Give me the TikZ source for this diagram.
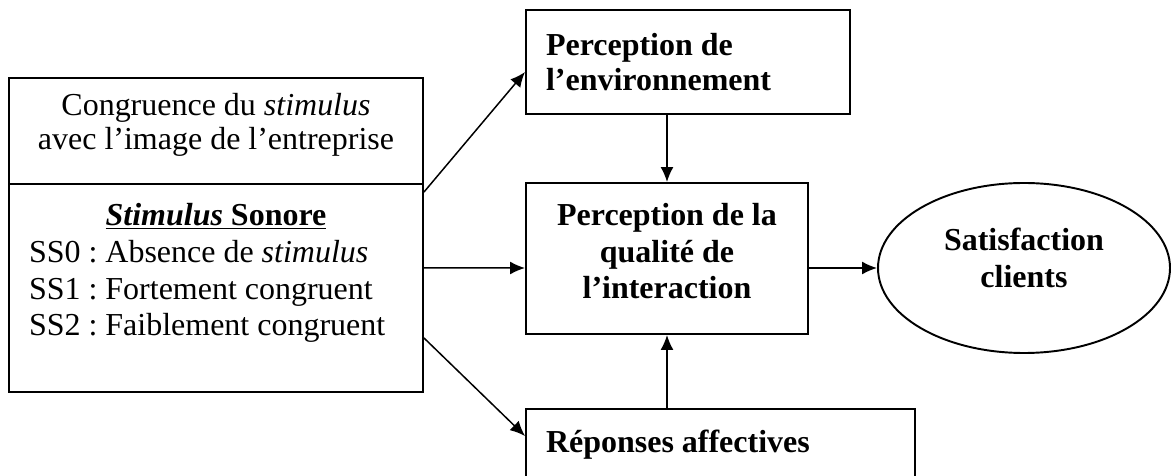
\documentclass[tikz,border=0pt]{standalone}
\usepackage{fontspec}
\setmainfont{Liberation Serif}
\usetikzlibrary{shapes,arrows.meta}
\usetikzlibrary{positioning}

\begin{document}
\begin{tikzpicture}[
    boite/.style={draw, line width=1.1pt, rectangle, inner sep=0pt, font=\fontsize{18.2}{21}\selectfont\frenchspacing},
    serre/.style={font=\fontsize{18.2}{19.5}\selectfont\frenchspacing},
    gras/.style={font=\fontsize{18.2}{21}\selectfont\bfseries},
    fleche/.style={-{Latex[length=0.3cm, width=0.26cm]}, line width=0.85pt}
    ]

    \useasboundingbox (0cm, 0cm) rectangle (23.42cm, 9.5cm);

    % Left boxes
    \node[boite, serre, minimum width=8.28cm, minimum height=2.12cm, align=center, text depth=0.37cm] (congr) at (4.32cm, 6.88cm) {Congruence du \textit{stimulus}\\avec l’image de l’entreprise};
    \node[boite, minimum width=8.28cm, minimum height=4.16cm, text width=7.48cm, align=flush left] (stim) at (4.32cm, 3.74cm) {\makebox[7.48cm][c]{\underline{\textbf{\textit{Stimulus} Sonore}}}\\SS0 : Absence de \textit{stimulus}\\SS1 : Fortement congruent\\SS2 : Faiblement congruent\\\mbox{}};

    % Middle boxes
    \node[boite, gras, minimum width=6.48cm, minimum height=2.08cm, text width=5.68cm, align=flush left, font=\fontsize{18.2}{19.5}\selectfont\bfseries] (env) at (13.76cm, 8.26cm) {Perception de\\l’environnement};
    \node[boite, gras, minimum width=5.64cm, minimum height=3.02cm, align=center, text depth=0.30cm] (qual) at (13.34cm, 4.33cm) {Perception de la\\qualité de\\l’interaction};
    \node[boite, gras, minimum width=7.78cm, minimum height=1.42cm, text width=6.98cm, align=flush left] (rep) at (14.41cm, 0.61cm) {Réponses affectives};

    % Ellipse
    \node[boite, gras, ellipse, minimum width=5.84cm, minimum height=3.40cm, align=center, text depth=0.42cm] (sat) at (20.48cm, 4.14cm) {Satisfaction\\clients};

    % Arrows
    \draw[fleche] ([yshift=-0.18cm]stim.north east) -- ([yshift=-0.20cm]env.west);
    \draw[fleche] ([yshift=0.40cm]stim.east) -- ([yshift=-0.19cm]qual.west);
    \draw[fleche] ([yshift=-1.00cm]stim.east) -- ([yshift=0.17cm]rep.west);

    \draw[fleche] (qual.north |- env.south) -- (qual.north);
    \draw[fleche] (qual.south |- rep.north) -- (qual.south);
    \draw[fleche] (qual.east |- sat.west) -- (sat.west);

\end{tikzpicture}
\end{document}
